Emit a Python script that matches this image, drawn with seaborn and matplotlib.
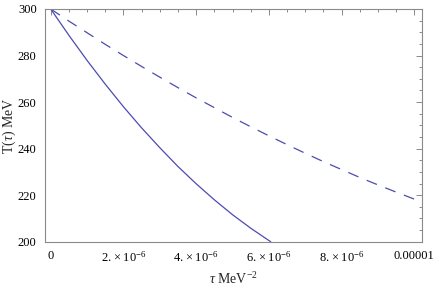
import matplotlib
matplotlib.use("Agg")
import matplotlib.pyplot as plt
import seaborn as sns
import pandas as pd
from matplotlib.ticker import FixedLocator, FixedFormatter, MultipleLocator

# data (tau in MeV^-2, T in MeV)
tau_solid = [0.0, 0.5e-6, 1.0e-6, 1.5e-6, 2.0e-6, 2.5e-6, 3.0e-6, 3.5e-6, 4.0e-6,
             4.5e-6, 5.0e-6, 5.5e-6, 6.0e-6, 6.05e-6]
T_solid = [300.0, 288.7, 277.9, 267.7, 258.0, 248.9, 240.4, 232.3, 224.9,
           218.0, 211.6, 205.8, 200.5, 200.0]
tau_dashed = [0.0, 0.5e-6, 1.0e-6, 1.5e-6, 2.0e-6, 2.5e-6, 3.0e-6, 3.5e-6, 4.0e-6,
              4.5e-6, 5.0e-6, 5.5e-6, 6.0e-6, 6.5e-6, 7.0e-6, 7.5e-6, 8.0e-6,
              8.5e-6, 9.0e-6, 9.5e-6, 10.0e-6]
T_dashed = [300.0, 294.8, 289.8, 284.8, 280.0, 275.3, 270.7, 266.2, 261.8,
            257.6, 253.4, 249.4, 245.5, 241.7, 238.0, 234.4, 231.0,
            227.6, 224.4, 221.3, 218.3]
x_ticks = [0.0, 2e-6, 4e-6, 6e-6, 8e-6, 1e-5]
x_tick_labels = ["0", r"$2.\times10^{-6}$", r"$4.\times10^{-6}$",
                 r"$6.\times10^{-6}$", r"$8.\times10^{-6}$", "0.00001"]
y_ticks = [200, 220, 240, 260, 280, 300]
y_tick_labels = ["200", "220", "240", "260", "280", "300"]
x_label = r"$\tau$ MeV$^{-2}$"
y_label = r"T($\tau$) MeV"

sns.set_style("white")
plt.rcParams["font.family"] = ["Liberation Serif", "DejaVu Serif"]
plt.rcParams["mathtext.fontset"] = "custom"
plt.rcParams["mathtext.rm"] = "Liberation Serif"
plt.rcParams["mathtext.it"] = "Liberation Serif:italic"

line_color = "#4c4cb0"
frame_color = "#8a8a8a"

fig = plt.figure(figsize=(4.36, 2.87), dpi=100)
ax = fig.add_axes([45 / 436, 1 - 241.7 / 287, (422 - 45) / 436, (241.7 - 9) / 287])

df_s = pd.DataFrame({"tau": tau_solid, "T": T_solid})
df_d = pd.DataFrame({"tau": tau_dashed, "T": T_dashed})
sns.lineplot(data=df_s, x="tau", y="T", ax=ax, color=line_color, lw=0.9)
sns.lineplot(data=df_d, x="tau", y="T", ax=ax, color=line_color, lw=0.9,
             dashes=False, linestyle=(0, (8.8, 7.2)))

ax.set_xlim(-0.157e-6, 10.21e-6)
ax.set_ylim(200, 300)

ax.xaxis.set_major_locator(FixedLocator(x_ticks))
ax.xaxis.set_major_formatter(FixedFormatter(x_tick_labels))
ax.xaxis.set_minor_locator(MultipleLocator(0.5e-6))
ax.yaxis.set_major_locator(FixedLocator(y_ticks))
ax.yaxis.set_major_formatter(FixedFormatter(y_tick_labels))
ax.yaxis.set_minor_locator(MultipleLocator(5))

for s in ax.spines.values():
    s.set_color(frame_color)
    s.set_linewidth(0.8)

ax.tick_params(which="both", direction="in", top=True, right=True,
               color=frame_color, width=0.7, labelsize=9, labelcolor="black")
ax.tick_params(which="major", length=4, pad=6)
ax.tick_params(which="minor", length=2)

ax.set_xlabel(x_label, fontsize=10, labelpad=5)
ax.set_ylabel(y_label, fontsize=10)
ax.yaxis.set_label_coords((18 - 45) / 377, 0.5)

fig.savefig("out.png", dpi=100)
